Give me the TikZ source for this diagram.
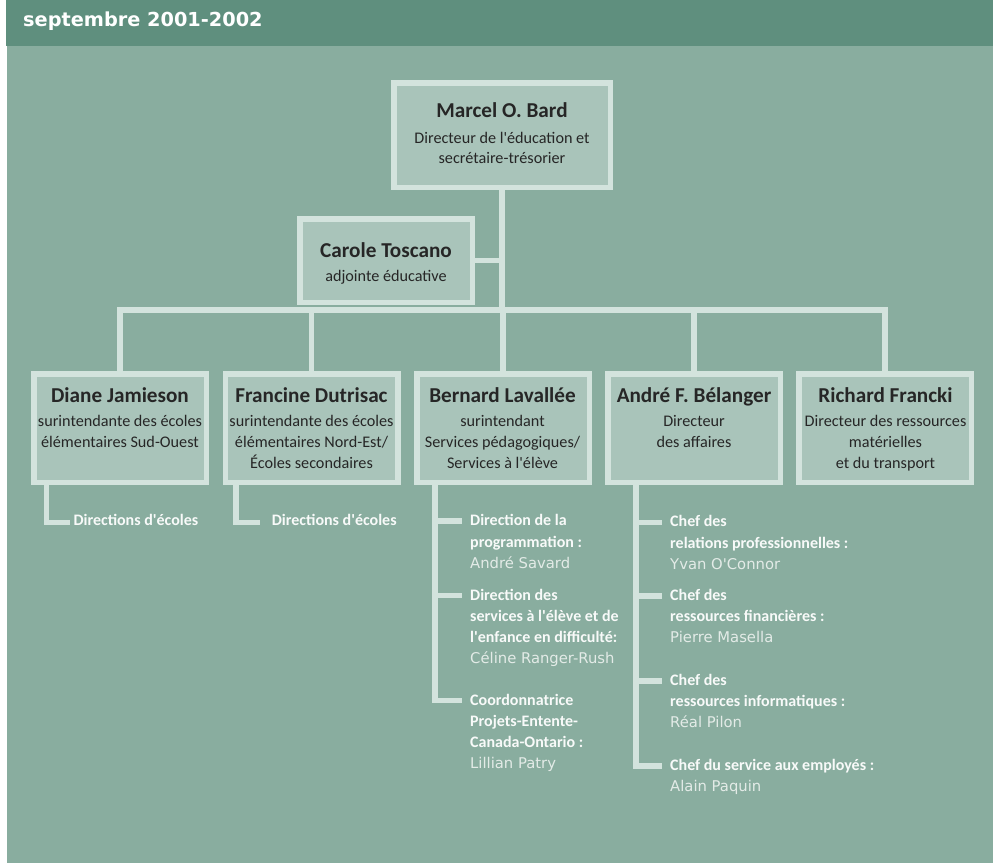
\documentclass[tikz,border=0pt]{standalone}
\usepackage{fontspec}
\setmainfont{Carlito}[Ligatures=TeXOff]
\newfontfamily\hdrfont{DejaVu Sans}[Ligatures=TeXOff]
\newfontfamily\lightfont{DejaVu Sans}[Ligatures=TeXOff]
\usetikzlibrary{calc}
\definecolor{hdrc}{HTML}{5F8F7E}
\definecolor{bodyc}{HTML}{89AD9F}
\definecolor{boxc}{HTML}{A9C4BA}
\definecolor{linec}{HTML}{D3E3DD}
\definecolor{darkc}{HTML}{262626}
\definecolor{labc}{HTML}{F8FAF9}
\definecolor{namec}{HTML}{E3EBE7}
\newcommand\clines[2][21pt]{\vtop{\baselineskip=#1\lineskiplimit=-100pt\lineskip=0pt\halign{\hfil##\hfil\cr#2\crcr}}}
\newcommand\llines[1]{\vtop{\baselineskip=21.3pt\lineskiplimit=-100pt\lineskip=0pt\halign{##\hfil\cr#1\crcr}}}
\newcommand\nm[1]{{\lightfont\mdseries\fontsize{14.8}{17}\selectfont\color{namec}#1}}
\begin{document}
\begin{tikzpicture}[x=1pt,y=-1pt,
  box/.style={draw=linec, line width=5.5pt, fill=boxc, inner sep=0pt, minimum width=172.5pt, minimum height=108.5pt},
  conn/.style={draw=linec, line width=5.5pt, line cap=butt, line join=miter},
  nametxt/.style={font=\bfseries\fontsize{21.2}{25}\selectfont, text=darkc, inner sep=0pt, anchor=base},
  subtxt/.style={font=\fontsize{16.2}{20}\selectfont, text=darkc, inner sep=0pt, anchor=base},
  itemtxt/.style={font=\bfseries\fontsize{16}{20}\selectfont, text=labc, inner sep=0pt, anchor=base west}]
\useasboundingbox (0,0) rectangle (1000,863);
\fill[white] (0,0) rectangle (1000,863);
\fill[hdrc] (6,0) rectangle (993,46);
\fill[bodyc] (7,46) rectangle (993,863);
\node[anchor=base west, inner sep=0pt, text=white, font=\hdrfont\bfseries\fontsize{19.3}{23}\selectfont] (title) at (23,26) {septembre 2001-2002};
% boxes
\node[box, minimum width=216.5pt, minimum height=104.5pt] (marcel) at (502,135) {};
\node[box, minimum height=83.5pt] (carole) at (386,260.5) {};
\node[box] (diane) at (120,428) {};
\node[box] (francine) at (311.5,428) {};
\node[box] (bernard) at (503,428) {};
\node[box] (andre) at (694,428) {};
\node[box] (richard) at (885,428) {};
% box texts
\node[nametxt] (marcelN) at (502,117.5) {Marcel O. Bard};
\node[subtxt] (marcelS) at (502,143.5) {\clines[20pt]{Directeur de l'éducation et\cr secrétaire-trésorier}};
\node[nametxt] (caroleN) at (386,257.7) {Carole Toscano};
\node[subtxt] (caroleS) at (386,281.7) {adjointe éducative};
\node[nametxt] (dianeN) at (120,402) {Diane Jamieson};
\node[subtxt] (dianeS) at (120,426) {\clines{surintendante des écoles\cr élémentaires Sud-Ouest}};
\node[nametxt] (francineN) at (311.5,402) {Francine Dutrisac};
\node[subtxt] (francineS) at (311.5,426) {\clines{surintendante des écoles\cr élémentaires Nord-Est/\cr Écoles secondaires}};
\node[nametxt] (bernardN) at (502.5,402) {Bernard Lavallée};
\node[subtxt] (bernardS) at (502.5,426) {\clines{surintendant\cr Services pédagogiques/\cr Services à l'élève}};
\node[nametxt] (andreN) at (694,402) {André F. Bélanger};
\node[subtxt] (andreS) at (694,426) {\clines{Directeur\cr des affaires}};
\node[nametxt] (richardN) at (885.5,402) {Richard Francki};
\node[subtxt] (richardS) at (885.5,426) {\clines{Directeur des ressources\cr matérielles\cr et du transport}};
% main connectors
\coordinate (bus) at (503,310);
\draw[conn] (diane.north) -- (diane.north |- bus) -- (richard.north |- bus) -- (richard.north);
\draw[conn] (marcel.south) -- (marcel.south |- bus);
\draw[conn] (carole.east) -- (carole.east -| marcel.south);
\draw[conn] (francine.north) -- (francine.north |- bus);
\draw[conn] (bernard.north) -- (bernard.north |- bus);
\draw[conn] (andre.north) -- (andre.north |- bus);
% sub items
\node[itemtxt] (dI) at (73.3,525.7) {Directions d'écoles};
\node[itemtxt] (fI) at (271.7,525.7) {Directions d'écoles};
\node[itemtxt] (b1) at (470,525.7) {\llines{Direction de la\cr programmation :\cr\nm{André Savard}}};
\node[itemtxt] (b2) at (470,600) {\llines{Direction des\cr services à l'élève et de\cr l'enfance en difficulté:\cr\nm{Céline Ranger-Rush}}};
\node[itemtxt] (b3) at (470,705) {\llines{Coordonnatrice\cr Projets-Entente-\cr Canada-Ontario :\cr\nm{Lillian Patry}}};
\node[itemtxt] (a1) at (670,526.7) {\llines{Chef des\cr relations professionnelles :\cr\nm{Yvan O'Connor}}};
\node[itemtxt] (a2) at (670,600) {\llines{Chef des\cr ressources financières :\cr\nm{Pierre Masella}}};
\node[itemtxt] (a3) at (670,685) {\llines{Chef des\cr ressources informatiques :\cr\nm{Réal Pilon}}};
\node[itemtxt] (a4) at (670,770) {\llines{Chef du service aux employés :\cr\nm{Alain Paquin}}};
% sub connectors
\coordinate (dtop) at ($(diane.south)+(-73.5,0)$);
\draw[conn] (dtop) |- ($(dI.base west)+(-3.3,-3)$);
\coordinate (ftop) at ($(francine.south)+(-75.5,0)$);
\draw[conn] (ftop) |- ($(fI.base west)+(-11.7,-3)$);
\coordinate (btop) at ($(bernard.south)+(-68,0)$);
\draw[conn] (btop) |- ($(b3.base west)+(-7.7,-4.5)$);
\draw[conn] (btop) |- ($(b2.base west)+(-7.7,-4.5)$);
\draw[conn] (btop) |- ($(b1.base west)+(-7.7,-4.5)$);
\coordinate (atop) at ($(andre.south)+(-58,0)$);
\draw[conn] (atop) |- ($(a4.base west)+(-8.3,-4)$);
\draw[conn] (atop) |- ($(a3.base west)+(-8.3,-4)$);
\draw[conn] (atop) |- ($(a2.base west)+(-8.3,-4)$);
\draw[conn] (atop) |- ($(a1.base west)+(-8.3,-4)$);
\end{tikzpicture}
\end{document}
